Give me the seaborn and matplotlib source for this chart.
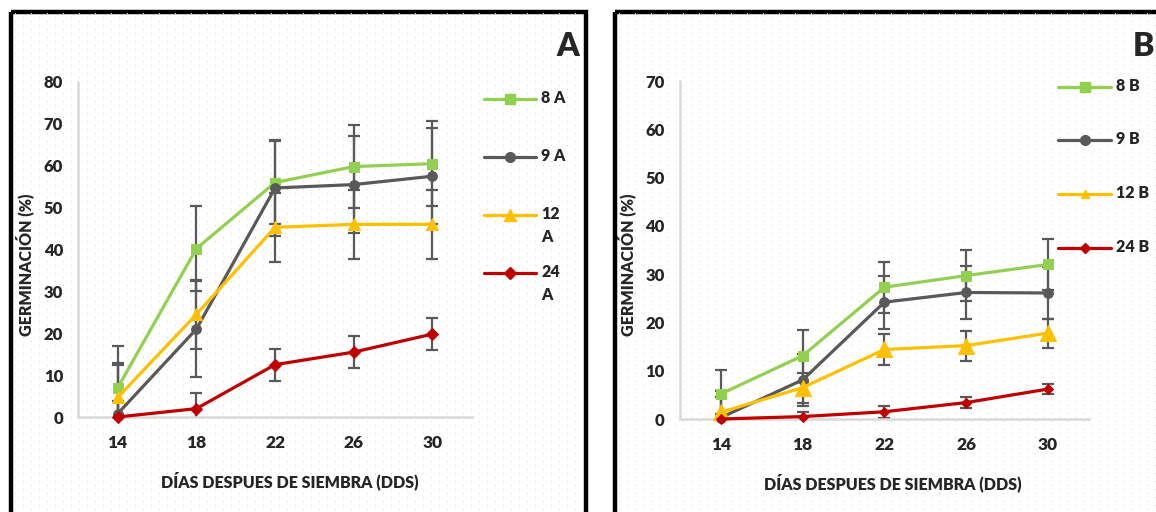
import matplotlib
matplotlib.use("Agg")
import matplotlib.pyplot as plt
import numpy as np
import seaborn as sns
from matplotlib.lines import Line2D
from matplotlib.patches import Rectangle

# x categories (days after sowing)
days = ["14", "18", "22", "26", "30"]

# panel A values (germination %)
names_a = ["8 A", "9 A", "12\nA", "24\nA"]
germ_8a = [7.0, 40.2, 56.0, 59.8, 60.5]
germ_9a = [0.8, 21.0, 54.7, 55.5, 57.5]
germ_12a = [4.7, 24.5, 45.3, 46.0, 46.0]
germ_24a = [0.0, 2.0, 12.5, 15.5, 19.8]
err_8a = [10.0, 10.1, 10.0, 10.0, 10.2]
err_9a = [11.5, 11.5, 11.5, 11.5, 11.5]
err_12a = [8.2, 8.2, 8.2, 8.2, 8.2]
err_24a = [3.8, 3.8, 3.8, 3.9, 3.8]

# panel B values
names_b = ["8 B", "9 B", "12 B", "24 B"]
germ_8b = [5.2, 13.1, 27.3, 29.7, 32.0]
germ_9b = [0.3, 8.1, 24.2, 26.2, 26.1]
germ_12b = [1.4, 6.5, 14.4, 15.2, 17.8]
germ_24b = [0.0, 0.5, 1.5, 3.4, 6.2]
err_8b = [5.0, 5.4, 5.3, 5.3, 5.3]
err_9b = [5.4, 5.4, 5.5, 5.4, 5.3]
err_12b = [3.1, 3.1, 3.2, 3.1, 3.0]
err_24b = [1.0, 1.0, 1.2, 1.1, 1.1]

colors = ["#92D050", "#595959", "#FFC000", "#C00000"]
markers = ["s", "o", "^", "D"]

sns.set_theme(style="white")
plt.rcParams["font.family"] = ["Lato", "DejaVu Sans"]
plt.rcParams["font.weight"] = "bold"

W, H = 1156, 512
fig = plt.figure(figsize=(W / 100, H / 100), dpi=100)

# background layer in pixel coordinates: dotted panels, frames, letters, legends
bg = fig.add_axes([0, 0, 1, 1], zorder=0)
bg.set_xlim(0, W)
bg.set_ylim(H, 0)
bg.axis("off")

for x0, x1 in [(10.5, 585.5), (614.5, 1170)]:
    for k, yy in enumerate(np.arange(14, H + 4, 4)):
        xs = np.arange(x0 + 4 + (8 if k % 2 else 0), x1, 16)
        bg.plot(xs, np.full(len(xs), yy), ",", color="#d6d6d6")
    bg.add_patch(Rectangle((x0, 11.5), x1 - x0, 520, fill=False,
                           edgecolor="black", lw=3.2))

bg.text(568, 46, "A", fontsize=23, fontweight="heavy", ha="center", va="center")
bg.text(1154, 46, "B", fontsize=23, fontweight="heavy", ha="right", va="center")


def draw_panel(rect, series, errs, ymax, msizes, xlab_x, ylab_x):
    ax = fig.add_axes(rect, zorder=2)
    ax.patch.set_alpha(0)
    for vals, err, col, mk, ms in zip(series, errs, colors, markers, msizes):
        sns.lineplot(x=days, y=vals, ax=ax, color=col, marker=mk,
                     markersize=ms, markeredgecolor=col, linewidth=2.3,
                     clip_on=False, zorder=3, legend=False)
        xpos = ax.xaxis.convert_units(days)
        ax.errorbar(xpos, vals, yerr=err, fmt="none", ecolor="#595959",
                    elinewidth=1.6, capsize=4.3, capthick=1.6, zorder=2)
    ax.set_xlim(-0.5, len(days) - 0.5)
    ax.set_ylim(0, ymax)
    ax.set_yticks(np.arange(0, ymax + 1, 10))
    ax.set_xticks(np.arange(-0.5, len(days), 1), minor=True)
    ax.tick_params(axis="y", length=0, pad=11, labelsize=12)
    ax.tick_params(axis="x", which="major", length=0, pad=13, labelsize=12.5)
    ax.tick_params(axis="x", which="minor", length=5, width=1.5,
                   color="#d9d9d9", direction="out")
    for lab in ax.get_xticklabels() + ax.get_yticklabels():
        lab.set_fontweight("heavy")
    sns.despine(ax=ax)
    for side in ["left", "bottom"]:
        ax.spines[side].set_color("#d9d9d9")
        ax.spines[side].set_linewidth(1.8)
    ax.set_xlabel("DÍAS DESPUES DE SIEMBRA (DDS)", fontsize=11.5,
                  fontweight="heavy")
    ax.set_ylabel("GERMINACIÓN (%)", fontsize=11.5, fontweight="heavy")
    ax.xaxis.set_label_coords(xlab_x, -0.162)
    ax.yaxis.set_label_coords(ylab_x, 0.455)
    return ax


ax_a = draw_panel([78.4 / W, 1 - 417 / H, 393.3 / W, 335 / H],
                  [germ_8a, germ_9a, germ_12a, germ_24a],
                  [err_8a, err_9a, err_12a, err_24a],
                  80, [7.5, 7.0, 8.5, 6.2], 0.537, -0.112)
ax_b = draw_panel([680 / W, 1 - 419 / H, 408.8 / W, 338 / H],
                  [germ_8b, germ_9b, germ_12b, germ_24b],
                  [err_8b, err_9b, err_12b, err_24b],
                  70, [7.5, 7.0, 12.0, 4.8], 0.521, -0.108)


def draw_legend(x0, x1, ys, names, msizes):
    for yy, name, col, mk, ms in zip(ys, names, colors, markers, msizes):
        bg.add_line(Line2D([x0, x1], [yy, yy], color=col, lw=2.3))
        bg.add_line(Line2D([(x0 + x1) / 2], [yy], color=col, marker=mk,
                           markersize=ms, markeredgecolor=col))
        bg.text(x1 + 5, yy - 9, name, fontsize=11.5, fontweight="heavy",
                ha="left", va="top", linespacing=1.5)


draw_legend(484, 536, [99, 157, 215, 273], names_a, [7.5, 7.0, 8.5, 6.2])
draw_legend(1058, 1111, [87, 140, 194, 248], names_b, [7.5, 7.0, 6.0, 4.8])

fig.savefig("out.png", dpi=100)
